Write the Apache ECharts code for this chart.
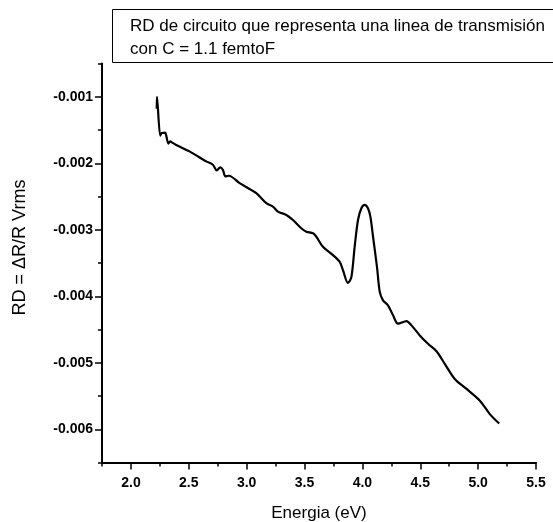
<!DOCTYPE html>
<html>
<head>
<meta charset="utf-8">
<script src="https://cdn.jsdelivr.net/npm/echarts@6/dist/echarts.min.js"></script>
<style>html,body{margin:0;padding:0;background:#fff;}#c{width:553px;height:522px;}</style>
</head>
<body>
<div id="c"></div>
<script>
const energy = [2.223,2.225,2.253,2.266,2.296,2.305,2.324,2.339,2.353,2.391,2.506,2.651,2.708,2.742,2.772,2.794,2.817,2.846,2.939,3.083,3.170,3.227,3.270,3.343,3.400,3.472,3.516,3.573,3.602,3.659,3.746,3.804,3.832,3.875,3.905,3.933,3.962,3.991,4.020,4.048,4.069,4.092,4.126,4.150,4.178,4.221,4.265,4.308,4.381,4.424,4.496,4.567,4.640,4.712,4.798,4.900,5.015,5.101,5.182];
const rd = [-0.00118,-0.00100,-0.001585,-0.001544,-0.00154,-0.001585,-0.001705,-0.00167,-0.001686,-0.001725,-0.001821,-0.001972,-0.002022,-0.002108,-0.002063,-0.002098,-0.002199,-0.002188,-0.002299,-0.00245,-0.0026,-0.002652,-0.002727,-0.002777,-0.002853,-0.002978,-0.003029,-0.003054,-0.003105,-0.003256,-0.003381,-0.003482,-0.003608,-0.0038,-0.003709,-0.003256,-0.002853,-0.002676,-0.002626,-0.002676,-0.002803,-0.003105,-0.003558,-0.003935,-0.004061,-0.004136,-0.004287,-0.004413,-0.004373,-0.004438,-0.004589,-0.004715,-0.004826,-0.005017,-0.005243,-0.005394,-0.005571,-0.005772,-0.005914];
const xTickLabels = [2.0,2.5,3.0,3.5,4.0,4.5,5.0,5.5];
const yTickLabels = [-0.006,-0.005,-0.004,-0.003,-0.002,-0.001];
const titleLines = ['RD de circuito que representa una linea de transmisión','con C = 1.1 femtoF'];
const xName = 'Energia (eV)';
const yName = 'RD = \u0394R/R Vrms';

const font = 'Arial, "Liberation Sans", sans-serif';
const chart = echarts.init(document.getElementById('c'), null, {renderer:'canvas'});
const axisBase = {
  axisLine:{show:true, onZero:false, lineStyle:{color:'#000', width:2}},
  splitLine:{show:false}
};
chart.setOption({
  animation:false,
  backgroundColor:'#fff',
  title:{
    text:titleLines.join('\n'),
    left:112, top:9,
    padding:[6,40,2,18],
    borderColor:'#000', borderWidth:1,
    textStyle:{fontFamily:font, fontSize:17, fontWeight:'normal', color:'#000', lineHeight:23}
  },
  grid:{left:102, right:17, top:63.5, bottom:59.5, containLabel:false, outerBoundsMode:'none'},
  xAxis:[
    Object.assign({}, axisBase, {
      type:'value', min:1.75, max:5.5, interval:0.25,
      axisTick:{show:true, inside:false, length:4, lineStyle:{color:'#000', width:1.5}},
      axisLabel:{customValues:xTickLabels, margin:14, color:'#000', fontFamily:font, fontSize:14, fontWeight:'bold',
        formatter:v=>v.toFixed(1)},
      name:xName, nameLocation:'middle', nameGap:42,
      nameTextStyle:{fontFamily:font, fontSize:17, color:'#000'}
    }),
    {
      type:'value', min:1.75, max:5.5, position:'bottom',
      axisLine:{show:false}, splitLine:{show:false}, axisLabel:{show:false},
      axisTick:{show:true, customValues:xTickLabels, length:7, lineStyle:{color:'#000', width:1.5}}
    }
  ],
  yAxis:[
    Object.assign({}, axisBase, {
      type:'value', min:-0.0065, max:-0.0005, interval:0.0005,
      axisTick:{show:true, length:4, lineStyle:{color:'#000', width:1.5}},
      axisLabel:{customValues:yTickLabels, margin:9, color:'#000', fontFamily:font, fontSize:14, fontWeight:'bold',
        formatter:v=>v.toFixed(3)}
    }),
    {
      type:'value', min:-0.0065, max:-0.0005, position:'left',
      axisLine:{show:false}, splitLine:{show:false}, axisLabel:{show:false},
      axisTick:{show:true, customValues:yTickLabels, length:7, lineStyle:{color:'#000', width:1.5}}
    }
  ],
  graphic:[{
    type:'text', x:20, y:247.5, rotation:Math.PI/2,
    style:{text:yName, fontFamily:font, fontSize:18, fill:'#000', align:'center', verticalAlign:'middle'}
  }],
  series:[{
    type:'line', xAxisIndex:0, yAxisIndex:0,
    data:energy.map((e,i)=>[e, rd[i]]),
    showSymbol:false, smooth:0.3,
    lineStyle:{color:'#000', width:2.2}
  }]
});
</script>
</body>
</html>
